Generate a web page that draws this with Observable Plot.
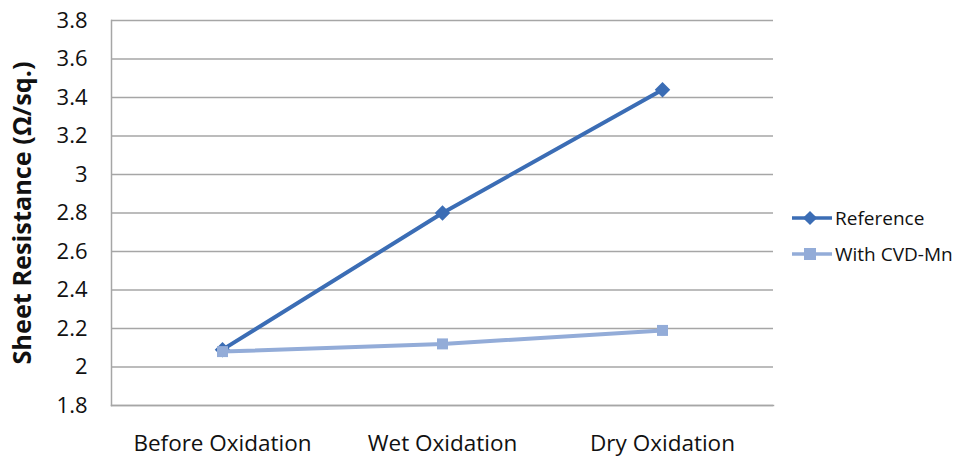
<!DOCTYPE html>
<html>
<head>
<meta charset="utf-8">
<script src="https://cdn.jsdelivr.net/npm/d3@7"></script>
<script src="https://cdn.jsdelivr.net/npm/@observablehq/plot@0.6"></script>
<style>
  html, body { margin: 0; padding: 0; background: #fff; }
  #wrap { position: relative; width: 962px; height: 459px; font-family: "Open Sans", "Noto Sans", sans-serif; overflow: hidden; }
  #legend { position: absolute; left: 792px; top: 200px; font-size: 19px; color: #111; white-space: nowrap; }
  .item { display: flex; align-items: center; height: 36px; }
  .item svg { margin-right: 3px; }
</style>
</head>
<body>
<div id="wrap"></div>
<script>
const categories = ["Before Oxidation", "Wet Oxidation", "Dry Oxidation"];
const referenceValues = [2.09, 2.80, 3.44];
const cvdMnValues = [2.08, 2.12, 2.19];
const yTicks = [1.8, 2, 2.2, 2.4, 2.6, 2.8, 3, 3.2, 3.4, 3.6, 3.8];
const seriesNames = ["Reference", "With CVD-Mn"];
const seriesColors = ["#3b6db5", "#93acd8"];
const yTitle = "Sheet Resistance (Ω/sq.)";

const refData = categories.map((c, i) => ({cat: c, v: referenceValues[i]}));
const cvdData = categories.map((c, i) => ({cat: c, v: cvdMnValues[i]}));

const chart = Plot.plot({
  width: 962,
  height: 459,
  marginLeft: 111,
  marginRight: 189,
  marginTop: 20,
  marginBottom: 54,
  style: {fontFamily: "'Open Sans', 'Noto Sans', sans-serif", fontSize: "20px", color: "#111", background: "white", overflow: "visible"},
  x: {type: "point", domain: categories, padding: 0.5, label: null},
  y: {domain: [1.8, 3.8], label: null},
  marks: [
    Plot.gridY(yTicks, {stroke: "#a6a6a6", strokeOpacity: 1, strokeWidth: 1.3}),
    Plot.axisY({ticks: yTicks, tickSize: 0, tickPadding: 24, tickFormat: d => String(+d.toFixed(1)),
      label: yTitle, labelAnchor: "center", labelArrow: "none", labelOffset: 98}),
    Plot.axisX({tickSize: 0, tickPadding: 30, label: null}),
    Plot.frame({anchor: "left", stroke: "#a6a6a6", strokeWidth: 1.5}),
    Plot.frame({anchor: "bottom", stroke: "#a6a6a6", strokeWidth: 1.5}),
    Plot.line(refData, {x: "cat", y: "v", stroke: seriesColors[0], strokeWidth: 4}),
    Plot.dot(refData, {x: "cat", y: "v", symbol: "diamond2", fill: seriesColors[0], r: 7, stroke: "none"}),
    Plot.line(cvdData, {x: "cat", y: "v", stroke: seriesColors[1], strokeWidth: 4}),
    Plot.dot(cvdData, {x: "cat", y: "v", symbol: "square", fill: seriesColors[1], r: 6.2, stroke: "none"})
  ]
});
const svg = d3.select(chart);
svg.selectAll("[aria-label='y-axis tick label'], [aria-label='y-axis tick label'] text").attr("font-size", 22);
svg.selectAll("[aria-label='x-axis tick label'], [aria-label='x-axis tick label'] text").attr("font-size", 22.5);
svg.selectAll("[aria-label='y-axis label'], [aria-label='y-axis label'] text")
  .attr("font-weight", "bold").attr("font-size", 25.3);
document.getElementById("wrap").appendChild(chart);

const legend = document.createElement("div");
legend.id = "legend";
seriesNames.forEach((name, i) => {
  const item = document.createElement("div");
  item.className = "item";
  const sym = i === 0
    ? `<rect x="13" y="4" width="10" height="10" transform="rotate(45 18 9)" fill="${seriesColors[i]}"/>`
    : `<rect x="12" y="3" width="12" height="12" fill="${seriesColors[i]}"/>`;
  item.innerHTML = `<svg width="40" height="18"><line x1="0" y1="9" x2="40" y2="9" stroke="${seriesColors[i]}" stroke-width="3.5"/>${sym}</svg><span>${name}</span>`;
  legend.appendChild(item);
});
document.getElementById("wrap").appendChild(legend);
</script>
</body>
</html>
